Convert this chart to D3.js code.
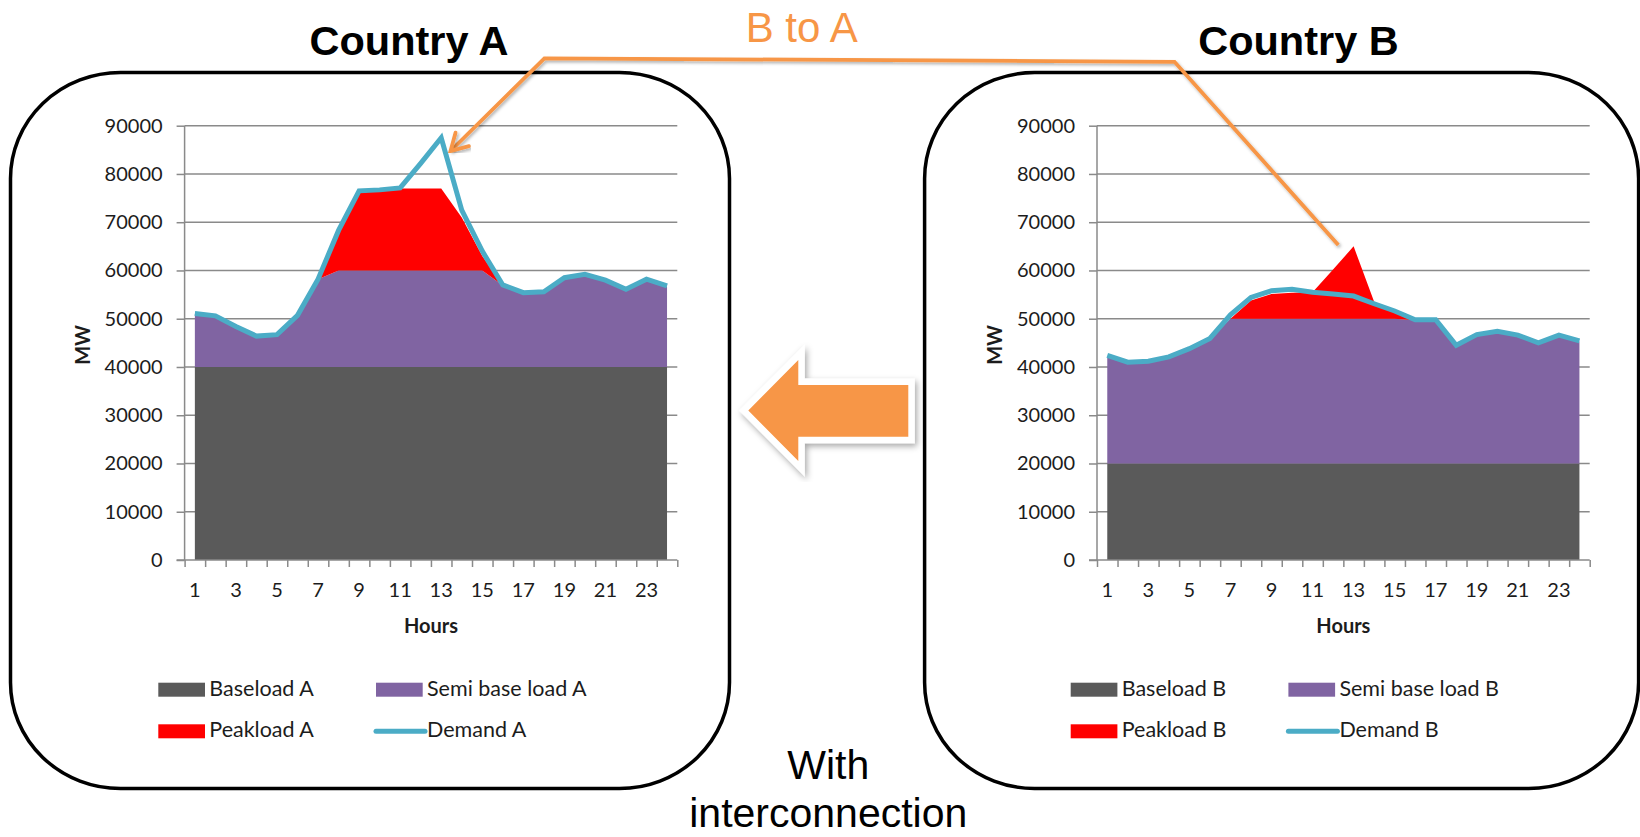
<!DOCTYPE html>
<html>
<head>
<meta charset="utf-8">
<script src="https://cdn.jsdelivr.net/npm/d3@7"></script>
<style>
  html, body { margin: 0; padding: 0; background: #ffffff; }
  svg { display: block; }
</style>
</head>
<body>
<svg id="chart" width="1640" height="837"></svg>
<script>
// ---- data -------------------------------------------------------------
const hours = [1, 2, 3, 4, 5, 6, 7, 8, 9, 10, 11, 12, 13, 14, 15, 16, 17, 18, 19, 20, 21, 22, 23, 24];
const labelledHours = [1, 3, 5, 7, 9, 11, 13, 15, 17, 19, 21, 23];
const yTicks = [0, 10000, 20000, 30000, 40000, 50000, 60000, 70000, 80000, 90000];

// Country A (MW per hour)
const baseloadA = [40000, 40000, 40000, 40000, 40000, 40000, 40000, 40000, 40000, 40000, 40000, 40000,
                   40000, 40000, 40000, 40000, 40000, 40000, 40000, 40000, 40000, 40000, 40000, 40000];
const semiBaseA = [11000, 10500, 8300, 6300, 6600, 10600, 18200, 20000, 20000, 20000, 20000, 20000,
                   20000, 20000, 20000, 16900, 15300, 15500, 18400, 19100, 17900, 16000, 18100, 16700];
const peakloadA = [0, 0, 0, 0, 0, 0, 0, 8200, 16000, 16600, 17000, 17000,
                   17000, 11000, 3000, 0, 0, 0, 0, 0, 0, 0, 0, 0];
const demandA   = [51100, 50600, 48400, 46400, 46700, 50700, 58200, 68300, 76500, 76700, 77100, 82200,
                   87500, 72500, 64000, 57000, 55400, 55600, 58500, 59200, 58000, 56100, 58200, 56800];

// Country B (MW per hour)
const baseloadB = [20000, 20000, 20000, 20000, 20000, 20000, 20000, 20000, 20000, 20000, 20000, 20000,
                   20000, 20000, 20000, 20000, 20000, 20000, 20000, 20000, 20000, 20000, 20000, 20000];
const semiBaseB = [22300, 20900, 21100, 22000, 23700, 25800, 30000, 30000, 30000, 30000, 30000, 30000,
                   30000, 30000, 30000, 29700, 29700, 24400, 26600, 27300, 26500, 24900, 26500, 25300];
const peakloadB = [0, 0, 0, 0, 0, 0, 0, 3800, 5100, 5400, 5500, 10200,
                   15000, 3500, 1300, 0, 0, 0, 0, 0, 0, 0, 0, 0];
const demandB   = [42400, 41000, 41200, 42100, 43800, 45900, 50800, 54400, 55800, 56100, 55500, 55100,
                   54700, 53100, 51600, 49800, 49800, 44500, 46700, 47400, 46600, 45000, 46600, 45400];

const seriesNamesA = ["Baseload A", "Semi base load A", "Peakload A", "Demand A"];
const seriesNamesB = ["Baseload B", "Semi base load B", "Peakload B", "Demand B"];

// ---- styling ------------------------------------------------------------
const COLORS = { base: "#5A5A5A", semi: "#8064A2", peak: "#FF0000", demand: "#4BACC6" };
const ORANGE = "#F79646";
const GRID = "#8A8A8A";
const TEXT = "#1C1C1C";
const AXIS_FONT = "Lato, 'Open Sans', sans-serif";
const TITLE_FONT = "'Liberation Sans', Arial, sans-serif";

const svg = d3.select("#chart");
const defs = svg.append("defs");

const shadow = defs.append("filter").attr("id", "softShadow")
  .attr("x", "-20%").attr("y", "-20%").attr("width", "140%").attr("height", "140%");
shadow.append("feDropShadow").attr("dx", 2).attr("dy", 3).attr("stdDeviation", 3)
  .attr("flood-color", "#000").attr("flood-opacity", 0.35);

const lineShadow = defs.append("filter").attr("id", "lineShadow")
  .attr("x", "-10%").attr("y", "-10%").attr("width", "120%").attr("height", "120%");
lineShadow.append("feDropShadow").attr("dx", 1.5).attr("dy", 2).attr("stdDeviation", 1.5)
  .attr("flood-color", "#000").attr("flood-opacity", 0.3);

// ---- panels ---------------------------------------------------------------
const panels = [
  {
    title: "Country A", titleX: 409, titleY: 55,
    frame: { x: 10.5, y: 72.5, w: 719, h: 716 },
    plot: { left: 184.6, right: 677.3, top: 125.7, bottom: 560 },
    base: baseloadA, semi: semiBaseA, peak: peakloadA, demand: demandA,
    names: seriesNamesA
  },
  {
    title: "Country B", titleX: 1298.5, titleY: 55,
    frame: { x: 924.6, y: 72.5, w: 714, h: 716 },
    plot: { left: 1097, right: 1589.7, top: 125.7, bottom: 560 },
    base: baseloadB, semi: semiBaseB, peak: peakloadB, demand: demandB,
    names: seriesNamesB
  }
];

panels.forEach(p => {
  const g = svg.append("g");

  // rounded frame
  g.append("rect")
    .attr("x", p.frame.x).attr("y", p.frame.y)
    .attr("width", p.frame.w).attr("height", p.frame.h)
    .attr("rx", 110).attr("ry", 106)
    .attr("fill", "none").attr("stroke", "#000").attr("stroke-width", 3.5);

  // title
  g.append("text")
    .attr("x", p.titleX).attr("y", p.titleY)
    .attr("text-anchor", "middle")
    .attr("font-family", TITLE_FONT).attr("font-weight", "bold")
    .attr("font-size", 41.5).attr("fill", "#000")
    .text(p.title);

  const x = d3.scaleBand().domain(hours).range([p.plot.left, p.plot.right]).paddingInner(0).paddingOuter(0);
  const xEdge = d3.scaleLinear().domain([0, hours.length]).range([p.plot.left, p.plot.right]);
  const y = d3.scaleLinear().domain([0, 90000]).range([p.plot.bottom, p.plot.top]);
  const cx = h => x(h) + x.bandwidth() / 2;

  // horizontal gridlines
  g.append("g").selectAll("line").data(yTicks.filter(t => t > 0)).join("line")
    .attr("x1", p.plot.left).attr("x2", p.plot.right)
    .attr("y1", d => y(d)).attr("y2", d => y(d))
    .attr("stroke", GRID).attr("stroke-width", 1.5);

  // stacked areas
  const rows = hours.map((h, i) => ({ hour: h, base: p.base[i], semi: p.semi[i], peak: p.peak[i] }));
  const stacked = d3.stack().keys(["base", "semi", "peak"])(rows);
  const area = d3.area()
    .x(d => cx(d.data.hour))
    .y0(d => y(d[0]))
    .y1(d => y(d[1]));
  g.append("g").selectAll("path").data(stacked).join("path")
    .attr("d", area)
    .attr("fill", d => COLORS[d.key]);

  // y axis
  const yAxis = d3.axisLeft(y).tickValues(yTicks).tickSize(8).tickPadding(14).tickFormat(d3.format("d"));
  const yg = g.append("g").attr("transform", `translate(${p.plot.left},0)`).call(yAxis);
  yg.select(".domain").attr("stroke", GRID).attr("stroke-width", 1.5)
    .attr("d", `M0,${p.plot.bottom}V${p.plot.top}`);
  yg.selectAll(".tick line").attr("stroke", GRID).attr("stroke-width", 1.5);
  yg.selectAll(".tick text")
    .attr("font-family", AXIS_FONT).attr("font-size", 20).attr("fill", TEXT);

  // x axis: tick marks on category boundaries
  const xEdgeAxis = d3.axisBottom(xEdge).tickValues(d3.range(0, hours.length + 1)).tickSize(7).tickFormat("");
  const xg = g.append("g").attr("transform", `translate(0,${p.plot.bottom})`).call(xEdgeAxis);
  xg.select(".domain").attr("stroke", GRID).attr("stroke-width", 1.5)
    .attr("d", `M${p.plot.left - 8},0H${p.plot.right}`);
  xg.selectAll(".tick line").attr("stroke", GRID).attr("stroke-width", 1.5);

  // x axis: hour labels centred in each category
  const xLabelAxis = d3.axisBottom(x).tickValues(labelledHours).tickSize(0).tickPadding(0);
  const xl = g.append("g").attr("transform", `translate(0,${p.plot.bottom})`).call(xLabelAxis);
  xl.select(".domain").remove();
  xl.selectAll(".tick text")
    .attr("dy", null).attr("y", 37)
    .attr("font-family", AXIS_FONT).attr("font-size", 20).attr("fill", TEXT);

  // demand line
  const line = d3.line().x((d, i) => cx(hours[i])).y(d => y(d));
  g.append("path")
    .attr("d", line(p.demand))
    .attr("fill", "none").attr("stroke", COLORS.demand)
    .attr("stroke-width", 5).attr("stroke-linejoin", "miter").attr("stroke-miterlimit", 6);

  // axis titles
  g.append("text")
    .attr("transform", `translate(${p.plot.left - 102},${(p.plot.top + p.plot.bottom) / 2 + 2}) rotate(-90)`)
    .attr("text-anchor", "middle").attr("dy", "0.35em")
    .attr("font-family", AXIS_FONT).attr("font-weight", "bold").attr("font-size", 20).attr("fill", TEXT)
    .text("MW");
  g.append("text")
    .attr("x", (p.plot.left + p.plot.right) / 2).attr("y", 633)
    .attr("text-anchor", "middle")
    .attr("font-family", AXIS_FONT).attr("font-weight", "bold").attr("font-size", 20).attr("fill", TEXT)
    .text("Hours");

  // legend
  const lx0 = p.plot.left - 26.3, lx1 = p.plot.left + 191.4;
  const legendItems = [
    { name: p.names[0], kind: "box", color: COLORS.base, x: lx0, y: 682.7 },
    { name: p.names[1], kind: "box", color: COLORS.semi, x: lx1, y: 682.7 },
    { name: p.names[2], kind: "box", color: COLORS.peak, x: lx0, y: 724.3 },
    { name: p.names[3], kind: "line", color: COLORS.demand, x: lx1, y: 724.3 }
  ];
  const lg = g.append("g").selectAll("g").data(legendItems).join("g")
    .attr("transform", d => `translate(${d.x},${d.y})`);
  lg.filter(d => d.kind === "box").append("rect")
    .attr("width", 46.7).attr("height", 14).attr("fill", d => d.color);
  lg.filter(d => d.kind === "line").append("line")
    .attr("x1", 0).attr("x2", 49).attr("y1", 7).attr("y2", 7)
    .attr("stroke", d => d.color).attr("stroke-width", 5).attr("stroke-linecap", "round");
  lg.append("text")
    .attr("x", 51).attr("y", 13)
    .attr("font-family", AXIS_FONT).attr("font-size", 21.5).attr("fill", TEXT)
    .text(d => d.name);
});

// ---- flow annotation --------------------------------------------------------
// big arrow pointing from B to A
const arrowPts = [[748.3, 410.5], [798.3, 360], [798.3, 385], [908.3, 385],
                  [908.3, 436.7], [798.3, 436.7], [798.3, 461], [748.3, 410.5]];
svg.append("path")
  .attr("d", d3.line()(arrowPts) + "Z")
  .attr("fill", ORANGE).attr("stroke", "#fff").attr("stroke-width", 13)
  .attr("stroke-linejoin", "miter").attr("stroke-miterlimit", 3).attr("paint-order", "stroke")
  .attr("filter", "url(#softShadow)");

// callout line from B's peak to A's peak
const calloutPts = [[1338.3, 245], [1174.5, 61.8], [544.4, 58.3], [450.5, 151]];
svg.append("path")
  .attr("d", d3.line()(calloutPts))
  .attr("fill", "none").attr("stroke", ORANGE).attr("stroke-width", 3.8)
  .attr("stroke-linejoin", "miter")
  .attr("filter", "url(#lineShadow)");
// open arrow head at the end of the callout
const tip = calloutPts[calloutPts.length - 1];
const prev = calloutPts[calloutPts.length - 2];
const ang = Math.atan2(prev[1] - tip[1], prev[0] - tip[0]);
const armLen = 19, spread = Math.PI / 6;
const arm = s => [tip[0] + armLen * Math.cos(ang + s), tip[1] + armLen * Math.sin(ang + s)];
svg.append("path")
  .attr("d", d3.line()([arm(spread), tip, arm(-spread)]))
  .attr("fill", "none").attr("stroke", ORANGE).attr("stroke-width", 3.8)
  .attr("stroke-linecap", "round").attr("stroke-linejoin", "miter")
  .attr("filter", "url(#lineShadow)");

svg.append("text")
  .attr("x", 801.7).attr("y", 41.5).attr("text-anchor", "middle")
  .attr("font-family", TITLE_FONT).attr("font-size", 42).attr("fill", ORANGE)
  .text("B to A");

// caption
svg.append("text")
  .attr("x", 828.3).attr("y", 778.5).attr("text-anchor", "middle")
  .attr("font-family", TITLE_FONT).attr("font-size", 41).attr("fill", "#000")
  .text("With");
svg.append("text")
  .attr("x", 828.3).attr("y", 827).attr("text-anchor", "middle")
  .attr("font-family", TITLE_FONT).attr("font-size", 41).attr("fill", "#000")
  .text("interconnection");
</script>
</body>
</html>
